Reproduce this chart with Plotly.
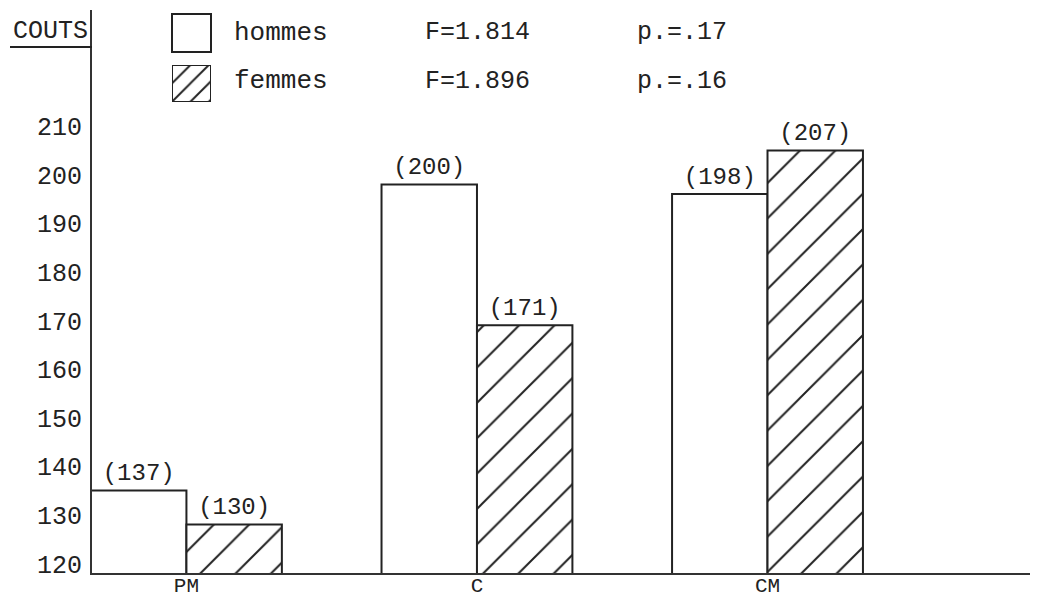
import plotly.graph_objects as go

categories = ["PM", "C", "CM"]
hommes = [137, 200, 198]
femmes = [130, 171, 207]
y_ticks = [120, 130, 140, 150, 160, 170, 180, 190, 200, 210]
y_label = "COUTS"
series_names = ["hommes", "femmes"]
f_stats = ["F=1.814", "F=1.896"]
p_stats = ["p.=.17", "p.=.16"]
legend_swatch = [1]

FONT = "Liberation Mono, Courier New, monospace"
INK = "#222"

# the page body has an 8px margin: figure sits at (8, 8) in the page
OFF = 8
PAGE_W, PAGE_H = 1038, 599
W, H = PAGE_W - OFF, PAGE_H - OFF
PL, PR, PT, PB = 92, 1038, 10, 573          # plot area in page pixels
L, R, T, B = PL - OFF, PAGE_W - PR, PT - OFF, PAGE_H - PB
PW, PH = PR - PL, PB - PT


def px(x):
    return (x - PL) / PW


def py(y):
    return (PB - y) / PH


fig = go.Figure()

fig.add_trace(go.Bar(
    x=categories, y=hommes, name=series_names[0],
    text=[f"({v})" for v in hommes], textposition="outside",
    textfont=dict(family=FONT, size=24, color=INK),
    marker=dict(color="white", line=dict(color=INK, width=2)),
    cliponaxis=False,
))
fig.add_trace(go.Bar(
    x=categories, y=femmes, name=series_names[1],
    text=[f"({v})" for v in femmes], textposition="outside",
    textfont=dict(family=FONT, size=24, color=INK),
    marker=dict(color="white", line=dict(color=INK, width=2),
                pattern=dict(shape="/", size=25, solidity=0.08,
                             fgcolor=INK, bgcolor="white", fillmode="replace")),
    cliponaxis=False,
))

# hatched legend swatch on its own small axes
fig.add_trace(go.Bar(
    x=[0], y=legend_swatch, width=[1], xaxis="x2", yaxis="y2",
    marker=dict(color="white", line=dict(color=INK, width=2),
                pattern=dict(shape="/", size=13, solidity=0.15,
                             fgcolor=INK, bgcolor="white", fillmode="replace")),
    showlegend=False, hoverinfo="skip",
))

fig.update_layout(
    width=W, height=H,
    margin=dict(l=L, r=R, t=T, b=B, pad=0, autoexpand=False),
    paper_bgcolor="white", plot_bgcolor="white",
    barmode="group", bargap=0.343, bargroupgap=0,
    showlegend=False,
    font=dict(family=FONT, size=24, color=INK),
    xaxis=dict(
        type="category", range=[-0.325, 2.931],
        showline=True, linecolor="#333", linewidth=2,
        showgrid=False, zeroline=False, ticks="",
        ticklabelstandoff=-8,
        tickfont=dict(family=FONT, size=21, color=INK),
    ),
    yaxis=dict(
        range=[120, 235.9], showticklabels=False,
        showline=True, linecolor="#333", linewidth=2,
        showgrid=False, zeroline=False, ticks="",
    ),
    xaxis2=dict(domain=[px(172), px(211)], range=[-0.5, 0.5], visible=False, fixedrange=True),
    yaxis2=dict(domain=[py(102), py(65)], range=[0, 1], visible=False, fixedrange=True),
)

# y tick labels: typed so that their baseline sits on the value
for v in y_ticks:
    fig.add_annotation(text=str(v), xref="paper", yref="y",
                       x=px(84), y=v, xanchor="right", yanchor="middle", yshift=7,
                       showarrow=False, font=dict(family=FONT, size=25, color=INK))

# hommes legend swatch (plain box)
fig.add_shape(type="rect", xref="paper", yref="paper",
              x0=px(172), x1=px(211), y0=py(52), y1=py(14),
              line=dict(color=INK, width=2), fillcolor="white", layer="above")

# COUTS label + underline
fig.add_annotation(text=y_label, xref="paper", yref="paper",
                   x=px(50), y=py(31), xanchor="center", yanchor="middle",
                   showarrow=False, font=dict(family=FONT, size=25, color=INK))
fig.add_shape(type="line", xref="paper", yref="paper",
              x0=px(10), x1=px(92), y0=py(47), y1=py(47),
              line=dict(color=INK, width=2))

row_y = [33, 81]
for i in range(2):
    fig.add_annotation(text=series_names[i], xref="paper", yref="paper",
                       x=px(232), y=py(row_y[i]), xanchor="left", yanchor="middle",
                       showarrow=False, font=dict(family=FONT, size=26, color=INK))
    fig.add_annotation(text=f_stats[i], xref="paper", yref="paper",
                       x=px(423), y=py(row_y[i]), xanchor="left", yanchor="middle",
                       showarrow=False, font=dict(family=FONT, size=25, color=INK))
    fig.add_annotation(text=p_stats[i], xref="paper", yref="paper",
                       x=px(635), y=py(row_y[i]), xanchor="left", yanchor="middle",
                       showarrow=False, font=dict(family=FONT, size=25, color=INK))

fig.write_html("out.html")
